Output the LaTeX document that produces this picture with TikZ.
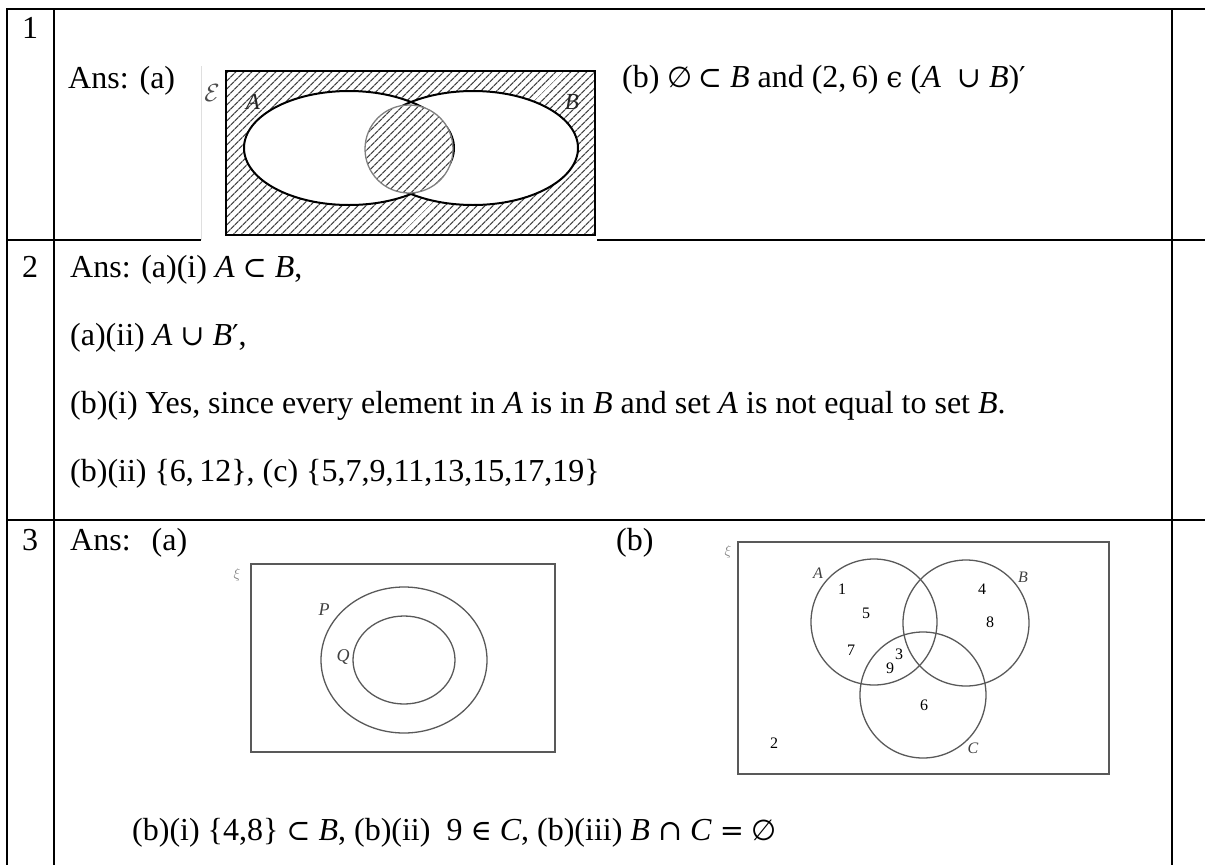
\documentclass[tikz,border=0pt]{standalone}
\usepackage{fontspec}
\setmainfont{Liberation Serif}
\newfontfamily\symfont[Scale=0.9]{DejaVu Serif}
\newfontfamily\voidfont[Scale=0.9]{DejaVu Sans}
\usepackage{amssymb}
\usetikzlibrary{patterns.meta,positioning}

\newcommand{\mi}[1]{\textit{#1}}
\newcommand{\sy}[1]{{\symfont #1}}
\newcommand{\noset}{{\voidfont ∅}}

\begin{document}
\begin{tikzpicture}[x=1pt,y=-1pt, rule/.style={line width=2.5pt,draw=black},answer/.style={anchor=base west,inner sep=0pt,font=\fontsize{32}{38}\selectfont}, setline/.style={draw=gray!70!black,line width=1.3pt},setname/.style={inner sep=0pt,font=\itshape\fontsize{18}{20}\selectfont,text=gray!50!black}, elem/.style={inner sep=0pt,font=\fontsize{16}{18}\selectfont}, hatch/.style={pattern={Lines[angle=45,distance=5.4pt,line width=1.3pt]},pattern color=gray!55!black}]

 \useasboundingbox (0,0) rectangle (1205,865);

 % table
 \draw[rule] (7,9) -- (1205,9);
 \draw[rule] (7,8) -- (7,865);
 \draw[rule] (54,9) -- (54,865);
 \draw[rule] (1172,9) -- (1172,865);
 \draw[rule] (7,240) -- (201,240);
 \draw[rule] (597,240) -- (1205,240);
 \draw[rule] (7,520) -- (1205,520);

 % question 1
 \node[answer] (num1) at (22,38) {1};
 \node[answer] (ans1a) at (68,88) {Ans:\hspace{11pt}(a)};
 \draw[gray!25] (201,66) -- (201,240);
 \draw[line width=2.2pt,hatch] (226,71) rectangle (595,235);
    \fill[white] (349,148) ellipse [x radius=105,y radius=57];
    \fill[white] (473,148) ellipse [x radius=105,y radius=57];
    \draw[line width=2pt] (349,148) ellipse [x radius=105,y radius=57];
    \draw[line width=2pt] (473,148) ellipse [x radius=105,y radius=57];
    \fill[white] (409,149) circle [radius=44];
    \fill[hatch] (409,149) circle [radius=44];
    \draw[gray,line width=1.3pt] (409,149) circle [radius=44];
 \node[inner sep=0pt,text=gray!60!black,font=\fontsize{24}{26}\selectfont] (univ1) at (212,93) {$\mathcal{E}$};
 \node[setname,text=gray!30!black,font=\itshape\fontsize{23}{25}\selectfont] (setA1) at (253,102) {A};
 \node[setname,text=gray!30!black,font=\itshape\fontsize{23}{25}\selectfont] (setB1) at (572,102) {B};
 \node[answer] (ans1b) at (622,87) {(b) \noset\,\sy{⊂} \mi{B} and (2,\,6) \sy{ϵ} (\mi{A}\ \ \sy{∪} \mi{B})\sy{′}};

 % question 2
 \node[answer] (num2) at (22,277) {2};
 \node[answer] (ans2ai) at (70,277) {Ans: (a)(i) \mi{A} \sy{⊂} \mi{B},};
 \node[answer] (ans2aii) at (70,345) {(a)(ii) \mi{A} \sy{∪} \mi{B}\sy{′},};
 \node[answer] (ans2bi) at (70,413) {(b)(i) Yes, since every element in \mi{A} is in \mi{B} and set \mi{A} is not equal to set \mi{B}.};
 \node[answer] (ans2bii) at (70,481) {(b)(ii) \{6,\,12\}, (c) \{5,7,9,11,13,15,17,19\}};

 % question 3
 \node[answer] (num3) at (22,550) {3};
 \node[answer] (ans3a) at (70,550) {Ans:\hspace{21pt}(a)};
 \node[answer] (ans3b) at (616,550) {(b)};

 \draw[setline] (251,564) rectangle (555,752);
 \node[inner sep=0pt,text=gray,font=\fontsize{14}{16}\selectfont] (univ3a) at (237,575) {$\xi$};
 \draw[setline] (404,660) ellipse [x radius=83,y radius=73];
 \draw[setline] (404,660) ellipse [x radius=51,y radius=44];
 \node[setname] (setP) at (324,610) {P};
 \node[setname] (setQ) at (343,657) {Q};

 \draw[setline] (738,542) rectangle (1109,774);
 \node[inner sep=0pt,text=gray,font=\fontsize{14}{16}\selectfont] (univ3b) at (728,552) {$\xi$};
 \foreach \s/\p in {A/{874,622},B/{966,623},C/{923,695}}
    \draw[setline] (\p) circle [radius=63];
 \foreach \s/\p in {A/{818,573},B/{1023,577},C/{973,748}}
    \node[setname,font=\itshape\fontsize{16}{18}\selectfont] (set\s3) at (\p) {\s};
 \foreach \n/\p in {1/{842,589},5/{866,613},7/{851,650},3/{899,654},9/{890,668},4/{982,589},8/{990,622},6/{924,705},2/{774,743}}
    \node[elem] (elem\n) at (\p) {\n};

 \node[answer] (ans3bi) at (132,840) {(b)(i) \{4,8\} \sy{⊂} \mi{B}, (b)(ii)\ \ 9 \sy{∈} \mi{C}, (b)(iii) \mi{B} \sy{∩} \mi{C} \sy{=} \noset};
\end{tikzpicture}
\end{document}
